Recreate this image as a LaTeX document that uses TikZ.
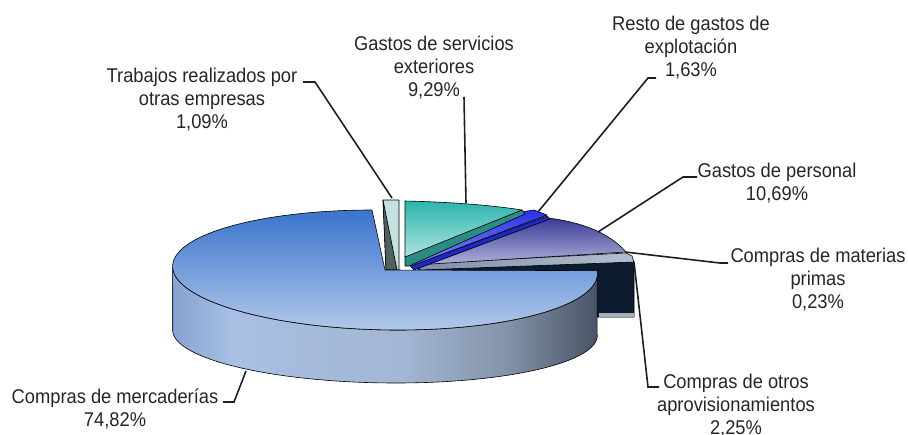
\documentclass[tikz,border=0pt]{standalone}
\usepackage{fontspec}
\setmainfont{Liberation Sans}[FakeStretch=0.92]
\definecolor{txt}{HTML}{262626}
\definecolor{ldr}{HTML}{1E1E1E}
\definecolor{wA}{HTML}{86A2D0}
\definecolor{wB}{HTML}{A8C0E4}
\definecolor{wC}{HTML}{A3B6D3}
\definecolor{wD}{HTML}{8494AA}
\definecolor{wE}{HTML}{4A5466}
\definecolor{mTop}{HTML}{3A74CC}
\definecolor{mBot}{HTML}{B2C8EA}
\definecolor{tealT}{HTML}{2AB5AD}
\definecolor{tealB}{HTML}{B0E4E0}
\definecolor{tealS}{HTML}{2A8C84}
\definecolor{perT}{HTML}{3A3A96}
\definecolor{perB}{HTML}{B2B2DA}
\definecolor{restT}{HTML}{2A30F0}
\definecolor{restB}{HTML}{8088E8}
\definecolor{restS}{HTML}{1C28C8}
\definecolor{navy}{HTML}{0D1B2F}
\definecolor{bandL}{HTML}{7E8EAA}
\definecolor{bandR}{HTML}{B4C0D0}
\definecolor{trL}{HTML}{C4E2E2}
\definecolor{trD}{HTML}{4F605E}
\pgfdeclarehorizontalshading{wallshade}{100bp}{color(0bp)=(wA); color(25bp)=(wA); color(32bp)=(wB); color(52bp)=(wC); color(64bp)=(wD); color(75bp)=(wE); color(100bp)=(wE)}
\begin{document}
\begin{tikzpicture}[x=1pt,y=-1pt,
  lbl/.style={align=center, inner sep=0pt, font=\fontsize{19.9}{23}\selectfont, text=txt, anchor=base},
  leader/.style={draw=ldr, line width=1.6pt, line join=miter},
  edge/.style={draw=black, line width=0.6pt, line join=round}]
\useasboundingbox (0,0) rectangle (908,434);

% ---- exploded small slices (back) ----
% otros aprovisionamientos: cut face (navy)
\path[edge, fill=navy] (418,268) -- (628,258) -- (634,262) -- (634,317) -- (560,317) -- (560,300) -- (418,300) -- cycle;
\path[fill=bandR!70!gray] (599,313) rectangle (634,317);
% top band (materias primas / otros aprovisionamientos)
\path[edge, left color=bandL, right color=bandR] (416,264) -- (626,253) -- (632,256) -- (634,262) -- (420,270) -- cycle;
% gastos de personal
\path[edge, top color=perT, bottom color=perB] (415,265) -- (548,218) .. controls (588,223) and (612,236) .. (626,252) -- cycle;
% resto de gastos de explotacion
\path[edge, fill=restS] (410,266) -- (547,216) -- (550,219) -- (414,270) -- cycle;
\path[edge, top color=restT, bottom color=restB] (407,262) -- (521,212) -- (534,210) -- (547,215) -- (411,266) -- cycle;
% gastos de servicios exteriores
\path[edge, fill=tealS] (405,256) -- (522,210) -- (525,214) -- (409,266) -- (405,266) -- cycle;
\path[edge, top color=tealT, bottom color=tealB] (405,201) .. controls (450,202) and (490,205) .. (522,210) -- (405,257) -- cycle;
% trabajos realizados por otras empresas
\path[edge, fill=trL] (383,200) -- (399,200) -- (399,270) -- (386,270) -- cycle;
\path[edge, fill=trD] (383,200) -- (397,270) -- (386,270) -- cycle;

% ---- main slice: compras de mercaderias ----
\path[edge, shading=wallshade]
  plot[domain=90.6:272, samples=90, smooth] ({385+212*sin(\x)-13*cos(\x)},{270-60*cos(\x)})
  -- plot[domain=272:90.6, samples=90, smooth] ({385+212*sin(\x)-11*cos(\x)},{333-50*cos(\x)})
  -- cycle;
\path[edge, top color=mTop, bottom color=mBot]
  (385,270) -- (372,210)
  -- plot[domain=360:90.6, samples=140, smooth] ({385+212*sin(\x)-13*cos(\x)},{270-60*cos(\x)})
  -- cycle;

% ---- labels (anchor = baseline of the last line) ----
\node[lbl] (lTr) at (202,128) {Trabajos realizados por\\otras empresas\\1,09\%};
\node[lbl] (lGs) at (434,96) {Gastos de servicios\\exteriores\\9,29\%};
\node[lbl] (lRe) at (691,76) {Resto de gastos de\\explotación\\1,63\%};
\node[lbl] (lGp) at (777,200) {Gastos de personal\\10,69\%};
\node[lbl] (lMp) at (818,308) {Compras de materias\\primas\\0,23\%};
\node[lbl] (lOa) at (736,434) {Compras de otros\\aprovisionamientos\\2,25\%};
\node[lbl] (lCm) at (115,426) {Compras de mercaderías\\74,82\%};

% ---- leader coordinates ----
\coordinate (tTr1) at (303,82);  \coordinate (tTr2) at (315,82);  \coordinate (sTr) at (392,198);
\coordinate (tGs1) at (464,97);  \coordinate (sGs) at (466,203);
\coordinate (tRe1) at (656,78);  \coordinate (tRe2) at (648,78);  \coordinate (sRe) at (538,212);
\coordinate (tGp1) at (697,177); \coordinate (tGp2) at (683,177); \coordinate (sGp) at (598,232);
\coordinate (tMp1) at (728,263); \coordinate (tMp2) at (720,263); \coordinate (sMp) at (625,252);
\coordinate (tOa1) at (659,387); \coordinate (tOa2) at (648,387); \coordinate (sOa) at (634,262);
\coordinate (tCm1) at (223,402); \coordinate (tCm2) at (234,402); \coordinate (sCm) at (246,371);

\draw[leader] (tTr1) -- (tTr2) -- (sTr);
\draw[leader] (tGs1) -- (sGs);
\draw[leader] (tRe1) -- (tRe2) -- (sRe);
\draw[leader] (tGp1) -- (tGp2) -- (sGp);
\draw[leader] (tMp1) -- (tMp2) -- (sMp);
\draw[leader] (tOa1) -- (tOa2) -- (sOa);
\draw[leader] (tCm1) -- (tCm2) -- (sCm);
\end{tikzpicture}
\end{document}
